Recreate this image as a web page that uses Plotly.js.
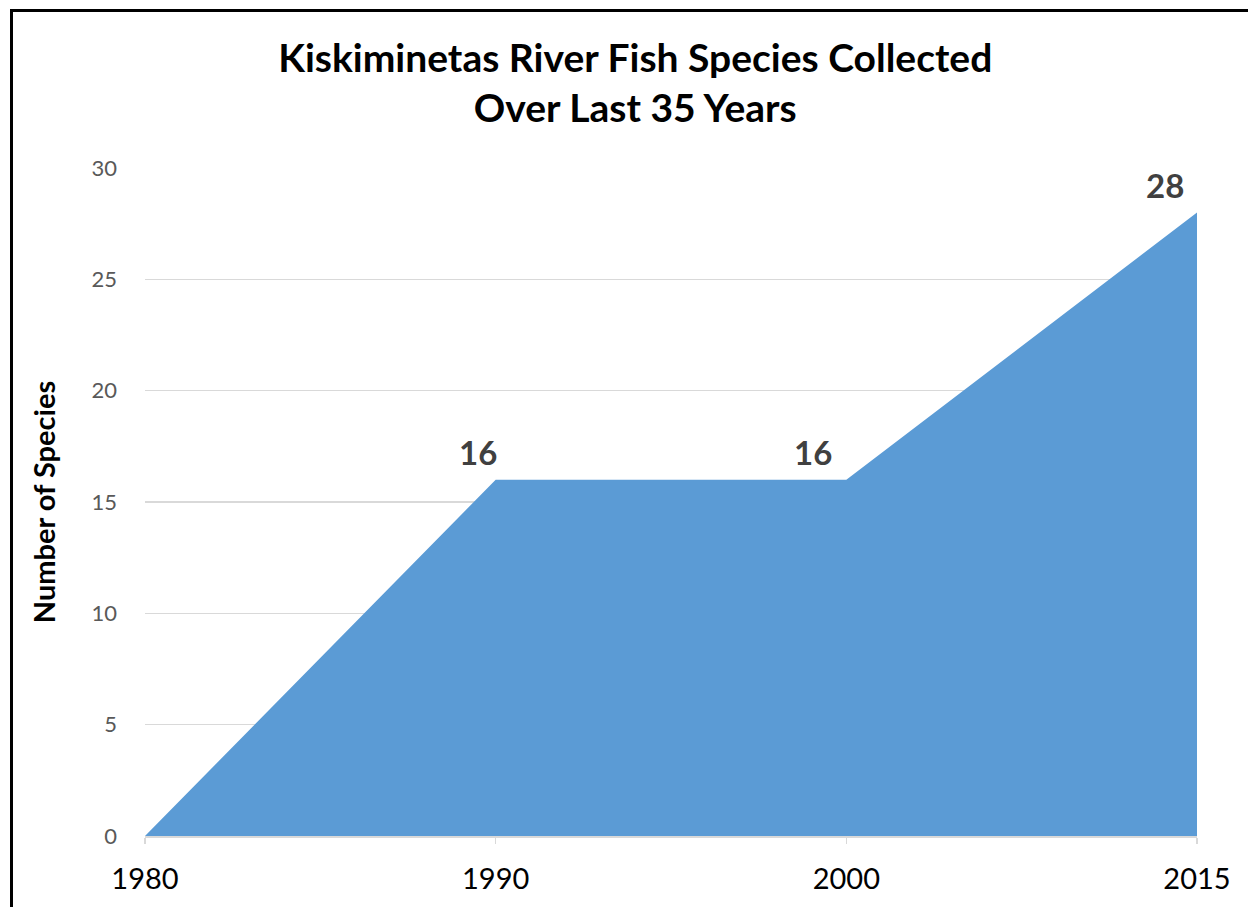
<!DOCTYPE html>
<html>
<head>
<meta charset="utf-8">
<script src="https://cdn.plot.ly/plotly-3.0.1.min.js"></script>
<style>
html,body{margin:0;padding:0;background:#fff;overflow:hidden;}
#frame{position:absolute;left:10px;top:9px;width:1300px;height:1000px;border-top:3px solid #000;border-left:3px solid #000;pointer-events:none;z-index:10;}
#chart{position:absolute;left:0;top:0;width:1248px;height:907px;}
</style>
</head>
<body>
<div id="chart"></div>
<div id="frame"></div>
<script>
const years = ["1980", "1990", "2000", "2015"];
const species = [0, 16, 16, 28];
const yTicks = [0, 5, 10, 15, 20, 25, 30];

const FONT = "Lato, 'Open Sans', sans-serif";
const labelXShift = [0, -18, -33, -32];

const annotations = years.map((yr, i) => species[i] > 0 ? ({
  x: i, y: species[i], xref: 'x', yref: 'y',
  text: '<b>' + String(species[i]) + '</b>', showarrow: false,
  xanchor: 'center', yanchor: 'middle',
  xshift: labelXShift[i], yshift: 28,
  font: {family: FONT, size: 33, color: '#404040'}
}) : null).filter(a => a);

const trace = {
  x: years.map((_, i) => i),
  y: species,
  type: 'scatter', mode: 'lines',
  fill: 'tozeroy', fillcolor: '#5B9BD5',
  line: {width: 0, color: '#5B9BD5'},
  hoverinfo: 'x+y'
};

const layout = {
  width: 1248, height: 907,
  margin: {l: 145, r: 51, t: 168, b: 71},
  paper_bgcolor: '#fff', plot_bgcolor: '#fff',
  showlegend: false,
  font: {family: FONT},
  title: {
    text: '<b>Kiskiminetas River Fish Species Collected<br>Over Last 35 Years</b>',
    font: {family: FONT, size: 39, color: '#000'},
    xref: 'container', x: 0.509, xanchor: 'center',
    yref: 'container', y: 0.921, yanchor: 'middle'
  },
  xaxis: {
    range: [0, 3],
    tickvals: years.map((_, i) => i), ticktext: years,
    showgrid: false, zeroline: false,
    showline: true, linecolor: '#d9d9d9', linewidth: 1.5,
    ticks: 'outside', ticklen: 6, tickcolor: '#d9d9d9', tickwidth: 1.5,
    tickfont: {family: FONT, size: 29, color: '#000'},
    ticklabelstandoff: 11
  },
  yaxis: {
    range: [0, 30],
    tickvals: yTicks,
    showgrid: true, gridcolor: '#d9d9d9', gridwidth: 1.5,
    zeroline: false, showline: false, ticks: '',
    tickfont: {family: FONT, size: 22, color: '#595959'},
    ticklabelstandoff: 27,
    title: {text: '<b>Number of Species</b>', font: {family: FONT, size: 29, color: '#000'}, standoff: 27}
  },
  annotations: annotations
};

Plotly.newPlot('chart', [trace], layout, {displayModeBar: false, staticPlot: true});
</script>
</body>
</html>
